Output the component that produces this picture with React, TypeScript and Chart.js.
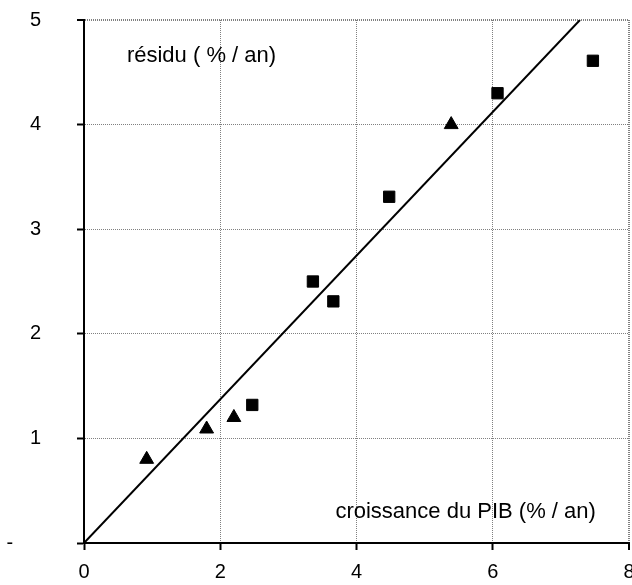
import React, { useEffect, useRef } from "react";
import { Chart, registerables } from "chart.js";

Chart.register(...registerables);

// Data
const squaresX = [2.47, 3.36, 3.66, 4.48, 6.07, 7.47];
const squaresY = [1.32, 2.5, 2.31, 3.31, 4.3, 4.61];
const trianglesX = [0.92, 1.8, 2.2, 5.39];
const trianglesY = [0.8, 1.09, 1.2, 4.0];
const fitX = [0, 7.28];
const fitY = [0, 5];
const xTickValues = [0, 2, 4, 6, 8];
const yTickLabels = ["-", "1", "2", "3", "4", "5"];
const yAxisTitle = "résidu ( % / an)";
const xAxisTitle = "croissance du PIB (% / an)";

const FONT = "Liberation Sans, Arial, sans-serif";

const toPoints = (xs: number[], ys: number[]) => xs.map((x, i) => ({ x, y: ys[i] }));

export default function App() {
  const ref = useRef<HTMLCanvasElement | null>(null);

  useEffect(() => {
    if (!ref.current) return;
    const textPlugin = {
      id: "axisTexts",
      afterDraw(chart: any) {
        const { ctx, scales } = chart;
        const xs = scales.x;
        const ys = scales.y;
        ctx.save();
        ctx.fillStyle = "#000";
        ctx.font = `22px ${FONT}`;
        ctx.textAlign = "left";
        ctx.textBaseline = "alphabetic";
        ctx.fillText(yAxisTitle, xs.getPixelForValue(0.63), ys.getPixelForValue(4.6));
        ctx.fillText(xAxisTitle, xs.getPixelForValue(3.69), ys.getPixelForValue(0.24));
        ctx.restore();
      },
    };

    const gridColor = (c: any) => (c.index === 0 ? "rgba(0,0,0,0)" : "#808080");
    const chart = new Chart(ref.current, {
      type: "scatter",
      data: {
        datasets: [
          {
            type: "line",
            data: toPoints(fitX, fitY),
            borderColor: "#000",
            borderWidth: 2,
            pointRadius: 0,
            fill: false,
            showLine: true,
          } as any,
          {
            data: toPoints(squaresX, squaresY),
            pointStyle: "rect",
            pointRadius: 8,
            backgroundColor: "#000",
            borderColor: "#000",
            borderWidth: 1,
          },
          {
            data: toPoints(trianglesX, trianglesY),
            pointStyle: "triangle",
            pointRadius: 8,
            backgroundColor: "#000",
            borderColor: "#000",
            borderWidth: 1,
          },
        ],
      },
      options: {
        animation: false,
        responsive: false,
        maintainAspectRatio: false,
        layout: { autoPadding: false, padding: { top: 20, right: 3, left: 0, bottom: 0 } },
        plugins: { legend: { display: false }, tooltip: { enabled: false } },
        scales: {
          x: {
            type: "linear",
            min: 0,
            max: 8,
            afterBuildTicks: (s: any) => {
              s.ticks = xTickValues.map((v) => ({ value: v }));
            },
            ticks: {
              font: { size: 20, family: FONT },
              color: "#000",
              padding: 10,
              maxRotation: 0,
              autoSkip: false,
            },
            grid: {
              color: gridColor,
              lineWidth: (c: any) => (c.index === xTickValues.length - 1 ? 2 : 1),
              tickColor: "#000",
              tickLength: 7,
              tickWidth: 2,
              tickBorderDash: [],
            } as any,
            border: { color: "#000", width: 2, dash: [1, 1] } as any,
            afterFit: (s: any) => {
              s.height = 42;
              s.paddingLeft = 0;
              s.paddingRight = 0;
            },
          },
          y: {
            type: "linear",
            min: 0,
            max: 5,
            ticks: {
              stepSize: 1,
              font: { size: 20, family: FONT },
              color: "#000",
              padding: 36,
              callback: (v: any, i: number) => (i === 0 ? yTickLabels[0] + "     " : yTickLabels[i]),
            },
            grid: {
              color: gridColor,
              lineWidth: (c: any) => (c.index === yTickLabels.length - 1 ? 2 : 1),
              tickColor: "#000",
              tickLength: 7,
              tickWidth: 2,
              tickBorderDash: [],
            } as any,
            border: { color: "#000", width: 2, dash: [1, 1] } as any,
            afterFit: (s: any) => {
              s.width = 84;
              s.paddingTop = 0;
              s.paddingBottom = 0;
            },
          },
        },
      },
      plugins: [textPlugin],
    });
    return () => chart.destroy();
  }, []);

  return (
    <div style={{ position: "absolute", left: 0, top: 0, width: 632, height: 585, background: "#fff" }}>
      <canvas ref={ref} width={632} height={585} style={{ width: 632, height: 585, display: "block" }} />
    </div>
  );
}
